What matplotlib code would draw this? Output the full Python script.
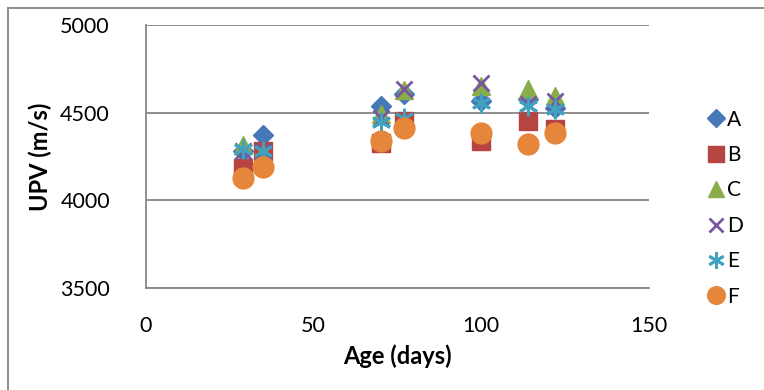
import matplotlib
matplotlib.use("Agg")
import matplotlib.pyplot as plt
from matplotlib.lines import Line2D

plt.rcParams['font.family'] = ['Lato', 'DejaVu Sans']

age = [29, 35, 70, 77, 100, 114, 122]

upv_a = [4280, 4375, 4540, 4608, 4568, 4580, 4528]
upv_b = [4182, 4284, 4325, 4455, 4340, 4455, 4404]
upv_c = [4313, 4270, 4490, 4630, 4653, 4636, 4597]
upv_d = [4284, 4284, 4472, 4636, 4670, 4550, 4568]
upv_e = [4290, 4280, 4445, 4470, 4557, 4540, 4523]
upv_f = [4125, 4188, 4340, 4415, 4386, 4324, 4386]

names = ['A', 'B', 'C', 'D', 'E', 'F']
series = [upv_a, upv_b, upv_c, upv_d, upv_e, upv_f]
colors = ['#4677B8', '#B64541', '#8AAD4A', '#7757A0', '#3FA3BF', '#E5863B']
markers = ['D', 's', '^', 'x', '*', 'o']

fig = plt.figure(figsize=(7.64, 3.90), dpi=100)
ax = fig.add_axes([146/764, 1-288/390, (649-146)/764, (288-25)/390])

for name, vals, c, m in zip(names, series, colors, markers):
    if m == 'x':
        ax.plot(age, vals, linestyle='none', marker='x', ms=12, mew=2,
                color=c, label=name)
    elif m == '*':
        ax.plot(age, vals, linestyle='none', marker=(6, 2, 0), ms=14, mew=2,
                color=c, label=name)
    else:
        ms = {'D': 10.5, 's': 13, '^': 13.5, 'o': 15}[m]
        ax.plot(age, vals, linestyle='none', marker=m, ms=ms, color=c,
                mec=c, label=name)

ax.set_xlim(0, 150)
ax.set_ylim(3500, 5000)
ax.set_xticks([0, 50, 100, 150])
ax.set_yticks([3500, 4000, 4500, 5000])
ax.grid(axis='y', color='#868686', linewidth=1.3)
ax.set_axisbelow(True)
for s in ['top', 'right']:
    ax.spines[s].set_visible(False)
for s in ['left', 'bottom']:
    ax.spines[s].set_color('#868686')
    ax.spines[s].set_linewidth(1.3)
ax.tick_params(length=0, labelsize=15.5)
ax.tick_params(axis='y', pad=26)
ax.tick_params(axis='x', pad=20)

ax.set_xlabel('Age (days)', fontsize=17, fontweight='bold', labelpad=6)
ax.set_ylabel('UPV (m/s)', fontsize=17, fontweight='bold', labelpad=6)

leg = ax.legend(loc='upper left', bbox_to_anchor=(1.095, 0.71), frameon=False,
                fontsize=15, handletextpad=0.05, labelspacing=0.74,
                handlelength=1.0, markerscale=0.85, borderaxespad=0)

# thin border round the chart area
fig.add_artist(Line2D([8/764, 1], [1-8/390, 1-8/390], transform=fig.transFigure,
                      color='#868686', lw=1.3))
fig.add_artist(Line2D([8/764, 8/764], [0, 1-8/390], transform=fig.transFigure,
                      color='#868686', lw=1.3))

fig.savefig('out.png', dpi=100)
